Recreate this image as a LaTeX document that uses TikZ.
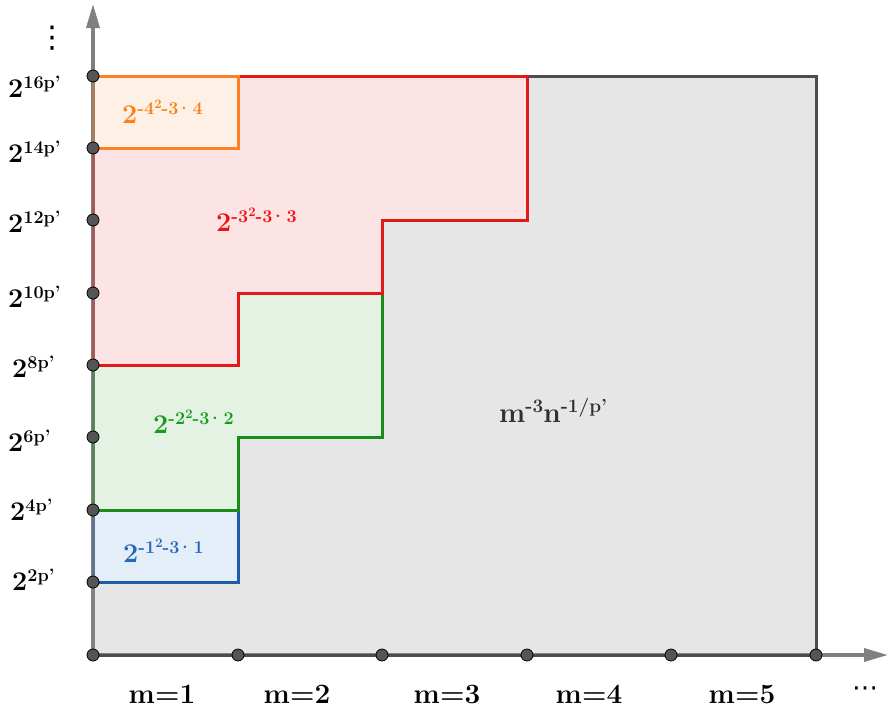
\documentclass[tikz,border=0pt]{standalone}
\usepackage{fontspec}
\newfontfamily\dvfont{DejaVu Sans}
\usetikzlibrary{arrows.meta}
\definecolor{grayfill}{HTML}{E6E6E6}
\definecolor{graystroke}{HTML}{4D4D4D}
\definecolor{axisgray}{HTML}{808080}
\definecolor{dotgray}{HTML}{555555}
\definecolor{redline}{HTML}{E01A1A}
\definecolor{redfill}{HTML}{FDE4E4}
\definecolor{redtext}{HTML}{F01010}
\definecolor{orline}{HTML}{FF8020}
\definecolor{orfill}{HTML}{FDF0E4}
\definecolor{ortext}{HTML}{FF7F10}
\definecolor{grline}{HTML}{1A8C1A}
\definecolor{grfill}{HTML}{E3F2E3}
\definecolor{grtext}{HTML}{1A9A1A}
\definecolor{blline}{HTML}{1F5CA8}
\definecolor{blfill}{HTML}{E4EEF8}
\definecolor{bltext}{HTML}{2468BC}
\definecolor{darktext}{HTML}{303030}
\newcommand\pw[2]{#1\raisebox{9pt}{\fontsize{18}{18}\selectfont #2}}
\newcommand\pwb[2]{#1\raisebox{10pt}{\fontsize{19}{19}\selectfont #2}}
\newcommand\sqq{\raisebox{6pt}{\fontsize{13}{13}\selectfont 2}}
\newcommand\cd{\kern-2.5pt·\kern1pt}
\begin{document}
\begin{tikzpicture}[x=1pt,y=-1pt,
  lab/.style={font=\fontsize{27}{27}\selectfont\bfseries, inner sep=0pt, anchor=base west},
  xlab/.style={font=\fontsize{28}{28}\selectfont\bfseries, inner sep=0pt, anchor=base},
  dot/.style={circle, fill=dotgray, draw=black, line width=0.8pt, minimum size=12pt, inner sep=0pt},
  region/.style={line width=3pt, line join=miter},
  axis/.style={draw=axisgray, line width=3.5pt, -{Triangle[length=24pt,width=13pt]}}]
\useasboundingbox (0,0) rectangle (889,710);
% grid coordinates
\coordinate (X0) at (93,655);
\foreach \i/\x in {1/238,2/382,3/527,4/671,5/816} { \coordinate (X\i) at (\x,655); }
\foreach \j/\y in {1/582,2/510,3/437,4/365,5/293,6/220,7/148,8/76} { \coordinate (Y\j) at (93,\y); }
\coordinate (xend) at (888,655);
\coordinate (yend) at (93,4);
% gray region
\fill[grayfill] (X0) rectangle (X5 |- Y8);
% coloured fills
\fill[blfill] (Y1) rectangle (X1 |- Y2);
\fill[grfill] (Y2) -- (X1 |- Y2) -- (X1 |- Y3) -- (X2 |- Y3) -- (X2 |- Y5) -- (X1 |- Y5) -- (X1 |- Y4) -- (Y4) -- cycle;
\fill[redfill] (Y4) -- (X1 |- Y4) -- (X1 |- Y5) -- (X2 |- Y5) -- (X2 |- Y6) -- (X3 |- Y6) -- (X3 |- Y8) -- (X1 |- Y8) -- (X1 |- Y7) -- (Y7) -- cycle;
\fill[orfill] (Y7) rectangle (X1 |- Y8);
% gray outline (top/right)
\draw[graystroke, line width=3pt] (X3 |- Y8) -- (X5 |- Y8) -- (X5);
% axes
\draw[axis] (X0) -- (xend);
\draw[axis] (X0) -- (yend);
\draw[graystroke, line width=3pt] (X0) -- (X5);
% tinted left edges
\draw[blline, opacity=0.35, line width=3pt] (Y1) -- (Y2);
\draw[grline, opacity=0.35, line width=3pt] (Y2) -- (Y4);
\draw[redline, opacity=0.35, line width=3pt] (Y4) -- (Y7);
\draw[orline, opacity=0.35, line width=3pt] (Y7) -- (Y8);
% coloured boundaries
\draw[region, blline] (Y1) -- (X1 |- Y1) -- (X1 |- Y2);
\draw[region, grline] (Y2) -- (X1 |- Y2) -- (X1 |- Y3) -- (X2 |- Y3) -- (X2 |- Y5);
\draw[region, redline] (Y4) -- (X1 |- Y4) -- (X1 |- Y5) -- (X2 |- Y5) -- (X2 |- Y6) -- (X3 |- Y6) -- (X3 |- Y8) -- (X1 |- Y8);
\draw[region, orline] (Y7) -- (X1 |- Y7) -- (X1 |- Y8) -- (Y8);
% dots
\node[dot] (d0) at (X0) {};
\foreach \i in {1,...,5} { \node[dot] (dx\i) at (X\i) {}; }
\foreach \j in {1,...,8} { \node[dot] (dy\j) at (Y\j) {}; }
% y labels
\node[lab] (l16) at (8,97) {\pw{2}{16p’}};
\node[lab] (l14) at (8,162) {\pw{2}{14p’}};
\node[lab] (l12) at (8,232) {\pw{2}{12p’}};
\node[lab] (l10) at (8,307) {\pw{2}{10p’}};
\node[lab] (l8) at (12,377) {\pw{2}{8p’}};
\node[lab] (l6) at (8,451) {\pw{2}{6p’}};
\node[lab] (l4) at (10,520) {\pw{2}{4p’}};
\node[lab] (l2) at (12,590) {\pw{2}{2p’}};
\node[font=\fontsize{30}{30}\selectfont\dvfont, inner sep=0pt] (vd) at (52,38) {⋮};
% x labels
\node[xlab] (m1) at (162,703) {m=1};
\node[xlab] (m2) at (297,703) {m=2};
\node[xlab] (m3) at (447,703) {m=3};
\node[xlab] (m4) at (589,703) {m=4};
\node[xlab] (m5) at (742,703) {m=5};
\node[font=\fontsize{26}{26}\selectfont\dvfont, inner sep=0pt] (hd) at (865,692) {⋯};
% region labels
\node[lab, text=ortext] (tor) at (122,123) {\pw{2}{-4\sqq-3\cd 4}};
\node[lab, text=redtext] (tred) at (216,231) {\pw{2}{-3\sqq-3\cd 3}};
\node[lab, text=grtext] (tgr) at (153,433) {\pw{2}{-2\sqq-3\cd 2}};
\node[lab, text=bltext] (tbl) at (123,562) {\pw{2}{-1\sqq-3\cd 1}};
\node[lab, font=\fontsize{28}{28}\selectfont\bfseries, text=darktext] (tgray) at (499,422) {\pwb{m}{-3}\pwb{n}{-1/p’}};
\end{tikzpicture}
\end{document}
